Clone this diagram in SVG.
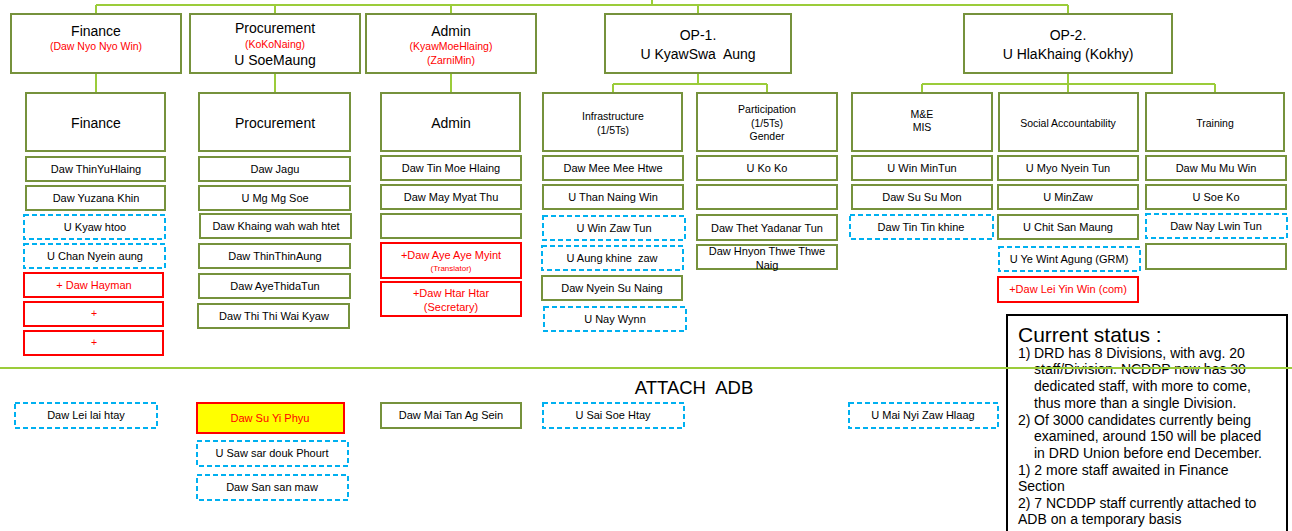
<svg xmlns="http://www.w3.org/2000/svg" width="1292" height="531" viewBox="0 0 1292 531">
<style>
text{font-family:"Liberation Sans",Arial,sans-serif;fill:#000;text-anchor:middle}
.g{fill:#fff;stroke:#76923c;stroke-width:2}
.d{fill:#fff;stroke:#00b0f0;stroke-width:2;stroke-dasharray:5 3}
.r{fill:#fff;stroke:#ff0000;stroke-width:2}
.y{fill:#ffff00;stroke:#ff0000;stroke-width:2}
.c{fill:none;stroke:#9bcc3a;stroke-width:2}
.t1{font-size:14px}
.t2{font-size:10.5px}
.s{font-size:11px}
.red{fill:#ff0000}
.st{text-anchor:start;font-size:14px}
</style>
<g id="connectors">
<path class="c" d="M652 0V5M96 5H1068M96 5V14M275 5V14M451 5V14M698 5V14M1068 5V14M96 73V93M275 73V93M451 73V93M698 73V84M613 84H767M613 84V93M767 84V93M1068 73V84M922 84H1215M922 84V93M1068 84V93M1215 84V93"/>
</g>
<g id="top-finance"><rect class="g" x="11" y="14" width="170" height="59"/><text class="t1" x="96" y="36">Finance</text><text class="t2 red" x="96" y="50">(Daw Nyo Nyo Win)</text></g>
<g id="top-procurement"><rect class="g" x="190" y="14" width="170" height="59"/><text class="t1" x="275" y="33">Procurement</text><text class="t2 red" x="275" y="48">(KoKoNaing)</text><text class="t1" x="275" y="65">U SoeMaung</text></g>
<g id="top-admin"><rect class="g" x="366" y="14" width="170" height="59"/><text class="t1" x="451" y="36">Admin</text><text class="t2 red" x="451" y="50">(KyawMoeHlaing)</text><text class="t2 red" x="451" y="64">(ZarniMin)</text></g>
<g id="top-op1"><rect class="g" x="605" y="14" width="186" height="59"/><text class="t1" x="698" y="40">OP-1.</text><text class="t1" x="698" y="59" xml:space="preserve">U KyawSwa  Aung</text></g>
<g id="top-op2"><rect class="g" x="964" y="14" width="208" height="59"/><text class="t1" x="1068" y="40">OP-2.</text><text class="t1" x="1068" y="59">U HlaKhaing (Kokhy)</text></g>

<g id="sec-finance"><rect class="g" x="26" y="93" width="139" height="58"/><text class="t1" x="96" y="128">Finance</text></g>
<g id="sec-procurement"><rect class="g" x="199" y="93" width="151" height="58"/><text class="t1" x="275" y="128">Procurement</text></g>
<g id="sec-admin"><rect class="g" x="381" y="93" width="139" height="58"/><text class="t1" x="451" y="128">Admin</text></g>
<g id="sec-infra"><rect class="g" x="543" y="93" width="139" height="58"/><text class="t2" x="613" y="120">Infrastructure</text><text class="t2" x="613" y="134">(1/5Ts)</text></g>
<g id="sec-participation"><rect class="g" x="697" y="93" width="140" height="58"/><text class="t2" x="767" y="113">Participation</text><text class="t2" x="767" y="127">(1/5Ts)</text><text class="t2" x="767" y="140">Gender</text></g>
<g id="sec-me"><rect class="g" x="852" y="93" width="140" height="58"/><text class="t2" x="922" y="118">M&amp;E</text><text class="t2" x="922" y="131">MIS</text></g>
<g id="sec-social"><rect class="g" x="999" y="93" width="139" height="58"/><text class="t2" x="1068" y="127">Social Accountability</text></g>
<g id="sec-training"><rect class="g" x="1146" y="93" width="138" height="58"/><text class="t2" x="1215" y="127">Training</text></g>

<g id="f1"><rect class="g" x="26" y="157" width="139" height="24"/><text class="s" x="96" y="173">Daw ThinYuHlaing</text></g>
<g id="f2"><rect class="g" x="26" y="186" width="139" height="24"/><text class="s" x="96" y="202">Daw Yuzana Khin</text></g>
<g id="f3"><rect class="d" x="24" y="215" width="141" height="24"/><text class="s" x="95" y="231">U Kyaw htoo</text></g>
<g id="f4"><rect class="d" x="24" y="244" width="141" height="24"/><text class="s" x="95" y="260">U Chan Nyein aung</text></g>
<g id="f5"><rect class="r" x="24" y="273" width="139" height="24"/><text class="s red" x="94" y="289">+ Daw Hayman</text></g>
<g id="f6"><rect class="r" x="24" y="302" width="139" height="24"/><text class="t2 red" x="94" y="317">+</text></g>
<g id="f7"><rect class="r" x="24" y="331" width="139" height="24"/><text class="t2 red" x="94" y="346">+</text></g>

<g id="p1"><rect class="g" x="199" y="157" width="151" height="24"/><text class="s" x="275" y="173">Daw Jagu</text></g>
<g id="p2"><rect class="g" x="199" y="186" width="151" height="24"/><text class="s" x="275" y="202">U Mg Mg Soe</text></g>
<g id="p3"><rect class="g" x="200" y="214" width="151" height="24"/><text class="s" x="276" y="230">Daw Khaing wah wah htet</text></g>
<g id="p4"><rect class="g" x="199" y="244" width="151" height="24"/><text class="s" x="275" y="260">Daw ThinThinAung</text></g>
<g id="p5"><rect class="g" x="199" y="274" width="151" height="24"/><text class="s" x="275" y="290">Daw AyeThidaTun</text></g>
<g id="p6"><rect class="g" x="198" y="304" width="151" height="24"/><text class="s" x="274" y="320">Daw Thi Thi Wai Kyaw</text></g>

<g id="a1"><rect class="g" x="381" y="156" width="140" height="24"/><text class="s" x="451" y="172">Daw Tin Moe Hlaing</text></g>
<g id="a2"><rect class="g" x="381" y="185" width="140" height="24"/><text class="s" x="451" y="201">Daw May Myat Thu</text></g>
<g id="a3"><rect class="g" x="381" y="214" width="140" height="24"/></g>
<g id="a4"><rect class="r" x="381" y="243" width="140" height="35"/><text class="s red" x="451" y="259">+Daw Aye Aye Myint</text><text class="red" style="font-size:8px" x="451" y="271">(Translator)</text></g>
<g id="a5"><rect class="r" x="381" y="282" width="140" height="34"/><text class="s red" x="451" y="297">+Daw Htar Htar</text><text class="s red" x="451" y="311">(Secretary)</text></g>

<g id="i1"><rect class="g" x="543" y="156" width="140" height="24"/><text class="s" x="613" y="172">Daw Mee Mee Htwe</text></g>
<g id="i2"><rect class="g" x="543" y="185" width="140" height="24"/><text class="s" x="613" y="201">U Than Naing Win</text></g>
<g id="i3"><rect class="d" x="543" y="216" width="142" height="24"/><text class="s" x="614" y="232">U Win Zaw Tun</text></g>
<g id="i4"><rect class="d" x="542" y="246" width="141" height="24"/><text class="s" x="612" y="262" xml:space="preserve">U Aung khine  zaw</text></g>
<g id="i5"><rect class="g" x="542" y="276" width="140" height="24"/><text class="s" x="612" y="292">Daw Nyein Su Naing</text></g>
<g id="i6"><rect class="d" x="544" y="307" width="142" height="24"/><text class="s" x="615" y="323">U Nay Wynn</text></g>

<g id="q1"><rect class="g" x="697" y="156" width="140" height="24"/><text class="s" x="767" y="172">U Ko Ko</text></g>
<g id="q2"><rect class="g" x="697" y="185" width="140" height="24"/></g>
<g id="q3"><rect class="g" x="697" y="215" width="140" height="25"/><text class="s" x="767" y="232">Daw Thet Yadanar Tun</text></g>
<g id="q4"><rect class="g" x="697" y="245" width="140" height="24"/><text class="s" x="767" y="255">Daw Hnyon Thwe Thwe</text><text class="s" x="767" y="269">Naig</text></g>

<g id="m1"><rect class="g" x="852" y="156" width="140" height="24"/><text class="s" x="922" y="172">U Win MinTun</text></g>
<g id="m2"><rect class="g" x="852" y="185" width="140" height="24"/><text class="s" x="922" y="201">Daw Su Su Mon</text></g>
<g id="m3"><rect class="d" x="850" y="215" width="143" height="24"/><text class="s" x="921" y="231">Daw Tin Tin khine</text></g>

<g id="s1"><rect class="g" x="998" y="156" width="140" height="24"/><text class="s" x="1068" y="172">U Myo Nyein Tun</text></g>
<g id="s2"><rect class="g" x="998" y="185" width="140" height="24"/><text class="s" x="1068" y="201">U MinZaw</text></g>
<g id="s3"><rect class="g" x="998" y="215" width="140" height="24"/><text class="s" x="1068" y="231">U Chit San Maung</text></g>
<g id="s4"><rect class="d" x="999" y="247" width="141" height="24"/><text class="s" x="1069" y="263">U Ye Wint Agung (GRM)</text></g>
<g id="s5"><rect class="r" x="998" y="277" width="140" height="25"/><text class="s red" x="1068" y="293">+Daw Lei Yin Win (com)</text></g>

<g id="t1"><rect class="g" x="1146" y="156" width="140" height="24"/><text class="s" x="1216" y="172">Daw Mu Mu Win</text></g>
<g id="t2"><rect class="g" x="1146" y="185" width="140" height="24"/><text class="s" x="1216" y="201">U Soe Ko</text></g>
<g id="t3"><rect class="d" x="1146" y="214" width="141" height="24"/><text class="s" x="1216" y="230">Daw Nay Lwin Tun</text></g>
<g id="t4"><rect class="g" x="1146" y="244" width="140" height="25"/></g>

<g id="status"><rect x="1007" y="315" width="280" height="230" fill="#fff" stroke="#000" stroke-width="2"/>
<text x="1018" y="342" style="text-anchor:start;font-size:21px">Current status :</text>
<text class="st" x="1018" y="358">1)</text><text class="st" x="1034" y="358">DRD has 8 Divisions, with avg. 20</text>
<text class="st" x="1034" y="374">staff/Division. NCDDP now has 30</text>
<text class="st" x="1034" y="391">dedicated staff, with more to come,</text>
<text class="st" x="1034" y="408">thus more than a single Division.</text>
<text class="st" x="1018" y="425">2)</text><text class="st" x="1034" y="425">Of 3000 candidates currently being</text>
<text class="st" x="1034" y="441">examined, around 150 will be placed</text>
<text class="st" x="1034" y="458">in DRD Union before end December.</text>
<text class="st" x="1018" y="475">1) 2 more staff awaited in Finance</text>
<text class="st" x="1018" y="491">Section</text>
<text class="st" x="1018" y="508">2) 7 NCDDP staff currently attached to</text>
<text class="st" x="1018" y="524">ADB on a temporary basis</text>
</g>

<g id="divider"><line x1="0" y1="368" x2="1292" y2="368" stroke="#9bcc3a" stroke-width="2"/></g>
<text x="694" y="394" style="font-size:18.5px" xml:space="preserve">ATTACH  ADB</text>

<g id="b1"><rect class="d" x="15" y="403" width="142" height="25"/><text class="s" x="86" y="419">Daw Lei lai htay</text></g>
<g id="b2"><rect class="y" x="197" y="403" width="147" height="30"/><text class="s red" x="270" y="422">Daw Su Yi Phyu</text></g>
<g id="b3"><rect class="d" x="197" y="441" width="151" height="25"/><text class="s" x="272" y="457">U Saw sar douk Phourt</text></g>
<g id="b4"><rect class="d" x="197" y="475" width="151" height="25"/><text class="s" x="272" y="491">Daw San san maw</text></g>
<g id="b5"><rect class="g" x="381" y="403" width="140" height="25"/><text class="s" x="451" y="419">Daw Mai Tan Ag Sein</text></g>
<g id="b6"><rect class="d" x="543" y="403" width="141" height="25"/><text class="s" x="613" y="419">U Sai Soe Htay</text></g>
<g id="b7"><rect class="d" x="849" y="403" width="149" height="25"/><text class="s" x="923" y="419">U Mai Nyi Zaw Hlaag</text></g>
</svg>
